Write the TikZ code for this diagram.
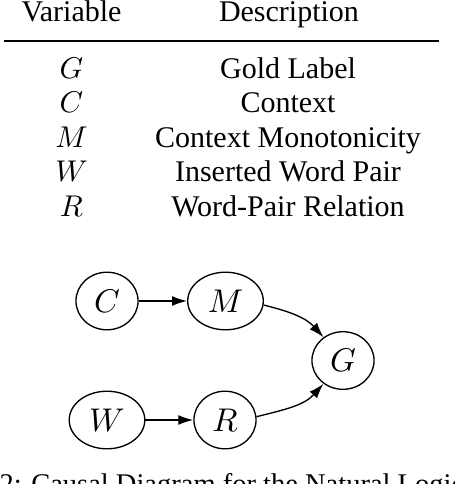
\documentclass[tikz,border=0pt]{standalone}
\usepackage{fontspec}
\setmainfont{Liberation Serif}
\usetikzlibrary{shapes.geometric,arrows.meta}
\begin{document}
\begin{tikzpicture}[x=0.33333pt,y=0.33333pt,
  var/.style={ellipse,draw,line width=0.45pt,inner sep=0pt,minimum height=19.2pt,minimum width=20.7pt,font=\fontsize{10.5}{12}\selectfont},
  wide/.style={minimum width=25.2pt},
  edge/.style={line width=0.45pt,-{Latex[length=5pt,width=3.3pt]}},
  cell/.style={anchor=base,inner sep=0pt,font=\fontsize{10}{12}\selectfont}]
\useasboundingbox (0,0) rectangle (454,-484);
\clip (0,0) rectangle (454,-484);
% table
\node[cell] (h1) at (71.5,-21) {Variable};
\node[cell] (h2) at (289,-21) {Description};
\draw[line width=0.6pt] (4,-41) -- (439,-41);
\node[cell] (v1) at (71.5,-78) {$G$};
\node[cell] (d1) at (288,-78) {Gold Label};
\node[cell] (v2) at (71.5,-112.5) {$C$};
\node[cell] (d2) at (288,-112.5) {Context};
\node[cell] (v3) at (71.5,-147) {$M$};
\node[cell] (d3) at (288,-147) {Context Monotonicity};
\node[cell] (v4) at (71.5,-181.5) {$W$};
\node[cell] (d4) at (288,-181.5) {Inserted Word Pair};
\node[cell] (v5) at (71.5,-216) {$R$};
\node[cell] (d5) at (288,-216) {Word-Pair Relation};
% graph
\node[var] (C) at (107,-301) {$C$};
\node[var,wide] (M) at (225.5,-301) {$M$};
\node[var] (G) at (343,-360.5) {$G$};
\node[var] (R) at (225,-420) {$R$};
\node[var,wide] (W) at (107,-420) {$W$};
\draw[edge] (C) -- (M);
\draw[edge] (W) -- (R);
\draw[edge] (M.-6) to[out=-14,in=132] (G.130);
\draw[edge] (R.6) to[out=14,in=-132] (G.-130);
% caption (cut off by the picture's lower edge)
\node[cell,anchor=base west,font=\fontsize{9.5}{12}\selectfont] (cap) at (-1,-493) {2: Causal Diagram for the Natural Logic};
\end{tikzpicture}
\end{document}
